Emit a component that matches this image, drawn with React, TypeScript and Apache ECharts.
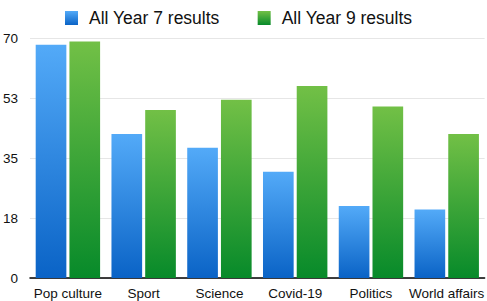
import React, { useEffect, useRef } from "react";
import * as echarts from "echarts";

const categories = ["Pop culture", "Sport", "Science", "Covid-19", "Politics", "World affairs"];
const year7 = [68, 42, 38, 31, 21, 20];
const year9 = [69, 49, 52, 56, 50, 42];
const seriesNames = ["All Year 7 results", "All Year 9 results"];

const FONT = "'Liberation Sans', Arial, Helvetica, sans-serif";

export default function App() {
  const ref = useRef<HTMLDivElement>(null);
  useEffect(() => {
    if (!ref.current) return;
    const chart = echarts.init(ref.current, undefined, { renderer: "svg" });
    const blue = new echarts.graphic.LinearGradient(0, 0, 0, 1, [
      { offset: 0, color: "#53aaf8" },
      { offset: 1, color: "#0a63c6" },
    ]);
    const green = new echarts.graphic.LinearGradient(0, 0, 0, 1, [
      { offset: 0, color: "#72c046" },
      { offset: 1, color: "#078a2a" },
    ]);
    chart.setOption({
      animation: false,
      textStyle: { fontFamily: FONT },
      legend: {
        left: 60,
        top: 4,
        itemWidth: 13,
        itemHeight: 14,
        itemGap: 38,
        icon: "rect",
        textStyle: { fontSize: 17.5, color: "#111", fontFamily: FONT, padding: [0, 0, 0, 6] },
        data: seriesNames,
      },
      grid: { left: 28, right: 0, top: 38, bottom: 23, containLabel: false },
      xAxis: {
        type: "category",
        data: categories,
        axisLine: { show: true, lineStyle: { color: "#000", width: 1.5 } },
        axisTick: { show: false },
        axisLabel: { color: "#111", fontSize: 13.5, margin: 8, fontFamily: FONT, interval: 0 },
      },
      yAxis: {
        type: "value",
        min: 0,
        max: 70,
        interval: 17.5,
        axisLine: { show: false },
        axisTick: { show: false },
        axisLabel: {
          color: "#111",
          fontSize: 13.5,
          margin: 12,
          fontFamily: FONT,
          formatter: (v: number) => String(Math.round(v)),
        },
        splitLine: { lineStyle: { color: "#e6e6e6", width: 1 } },
      },
      series: [
        {
          name: seriesNames[0],
          type: "bar",
          data: year7,
          barGap: "10%",
          barCategoryGap: "15%",
          itemStyle: { color: blue },
        },
        {
          name: seriesNames[1],
          type: "bar",
          data: year9,
          barGap: "10%",
          barCategoryGap: "15%",
          itemStyle: { color: green },
        },
      ],
    });
    return () => chart.dispose();
  }, []);
  return <div ref={ref} style={{ width: 487, height: 301, position: "absolute", left: 0, top: 0 }} />;
}
